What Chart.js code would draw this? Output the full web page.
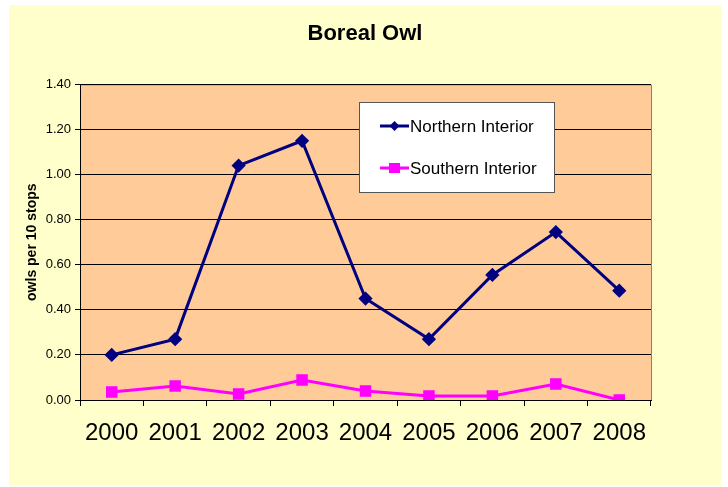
<!DOCTYPE html>
<html>
<head>
<meta charset="utf-8">
<script src="https://cdn.jsdelivr.net/npm/chart.js@4.4.0/dist/chart.umd.min.js"></script>
<style>
  html, body { margin: 0; padding: 0; background: #ffffff; }
  #wrap { position: absolute; left: 9px; top: 5px; width: 712px; height: 481px; background: #FFFFCC; }
  canvas { display: block; }
</style>
</head>
<body>
<div id="wrap"><canvas id="c" width="712" height="481"></canvas></div>
<script>
const years = ["2000","2001","2002","2003","2004","2005","2006","2007","2008"];
const northernInterior = [0.20, 0.27, 1.04, 1.15, 0.45, 0.27, 0.555, 0.745, 0.485];
const southernInterior = [0.035, 0.062, 0.027, 0.089, 0.04, 0.018, 0.018, 0.071, 0.0];
const yTicks = [0, 0.2, 0.4, 0.6, 0.8, 1.0, 1.2, 1.4];

const FONT = 'Arial, "Liberation Sans", sans-serif';

const plotBg = {
  id: 'plotBg',
  beforeDraw(chart) {
    const {ctx, chartArea: a} = chart;
    ctx.save();
    ctx.fillStyle = '#FFCC99';
    ctx.fillRect(a.left, a.top, a.right - a.left, a.bottom - a.top);
    ctx.strokeStyle = '#808080';
    ctx.lineWidth = 1;
    ctx.beginPath();
    ctx.moveTo(a.left, a.top + 0.5);
    ctx.lineTo(a.right + 0.5, a.top + 0.5);
    ctx.lineTo(a.right + 0.5, a.bottom);
    ctx.stroke();
    ctx.restore();
  }
};

const boxLegend = {
  id: 'boxLegend',
  afterDraw(chart) {
    const ctx = chart.ctx;
    const x = 350, y = 97, w = 195, h = 90;
    ctx.save();
    ctx.fillStyle = '#ffffff';
    ctx.fillRect(x, y, w, h);
    ctx.strokeStyle = '#555555';
    ctx.lineWidth = 1;
    ctx.strokeRect(x + 0.5, y + 0.5, w, h);
    const rows = [121, 163];
    chart.data.datasets.forEach((ds, i) => {
      const cy = rows[i];
      ctx.strokeStyle = ds.borderColor;
      ctx.lineWidth = 3;
      ctx.beginPath();
      ctx.moveTo(371, cy);
      ctx.lineTo(400, cy);
      ctx.stroke();
      ctx.fillStyle = ds.pointBackgroundColor;
      if (ds.pointStyle === 'rectRot') {
        ctx.beginPath();
        ctx.moveTo(385.5, cy - 5);
        ctx.lineTo(390.5, cy);
        ctx.lineTo(385.5, cy + 5);
        ctx.lineTo(380.5, cy);
        ctx.closePath();
        ctx.fill();
      } else {
        ctx.fillRect(380, cy - 5, 11, 10);
      }
      ctx.fillStyle = '#000000';
      ctx.font = '17px ' + FONT;
      ctx.textBaseline = 'middle';
      ctx.textAlign = 'left';
      ctx.fillText(ds.label, 401, cy + 1);
    });
    ctx.restore();
  }
};

new Chart(document.getElementById('c'), {
  type: 'line',
  data: {
    labels: years,
    datasets: [
      {
        label: 'Northern Interior',
        data: northernInterior,
        borderColor: '#000080',
        backgroundColor: '#000080',
        pointBackgroundColor: '#000080',
        pointBorderColor: '#000080',
        pointStyle: 'rectRot',
        pointRadius: 5,
        borderWidth: 3,
        tension: 0
      },
      {
        label: 'Southern Interior',
        data: southernInterior,
        borderColor: '#FF00FF',
        backgroundColor: '#FF00FF',
        pointBackgroundColor: '#FF00FF',
        pointBorderColor: '#FF00FF',
        pointStyle: 'rect',
        pointRadius: 6,
        borderWidth: 3,
        tension: 0
      }
    ]
  },
  options: {
    responsive: false,
    animation: false,
    devicePixelRatio: 1,
    layout: { padding: 0 },
    plugins: {
      legend: { display: false },
      tooltip: { enabled: false },
      title: {
        display: true,
        text: 'Boreal Owl',
        color: '#000000',
        font: { family: FONT, size: 22, weight: 'bold' },
        padding: { top: 16, bottom: 37 }
      }
    },
    scales: {
      x: {
        offset: true,
        grid: {
          offset: true,
          drawOnChartArea: false,
          drawTicks: true,
          tickLength: 6,
          color: '#000000'
        },
        border: { color: '#000000', width: 1 },
        ticks: {
          color: '#000000',
          padding: 13,
          maxRotation: 0,
          font: { family: FONT, size: 24 }
        },
        afterFit(s) { s.height = 86; }
      },
      y: {
        min: 0,
        max: 1.4,
        afterBuildTicks(s) { s.ticks = yTicks.map(v => ({ value: v })); },
        grid: {
          color: '#000000',
          lineWidth: 1,
          tickLength: 5,
          drawTicks: true
        },
        border: { color: '#000000', width: 1 },
        ticks: {
          color: '#000000',
          padding: 4,
          font: { family: FONT, size: 13 },
          callback: v => Number(v).toFixed(2)
        },
        title: {
          display: true,
          text: 'owls per 10 stops',
          color: '#000000',
          font: { family: FONT, size: 14, weight: 'bold' },
          padding: { top: 15, bottom: 0 }
        },
        afterFit(s) { s.width = 71; }
      },
      yRight: {
        type: 'linear',
        position: 'right',
        display: true,
        grid: { display: false, drawTicks: false },
        border: { display: false },
        ticks: { display: false },
        afterFit(s) { s.width = 70; }
      }
    }
  },
  plugins: [plotBg, boxLegend]
});
</script>
</body>
</html>
